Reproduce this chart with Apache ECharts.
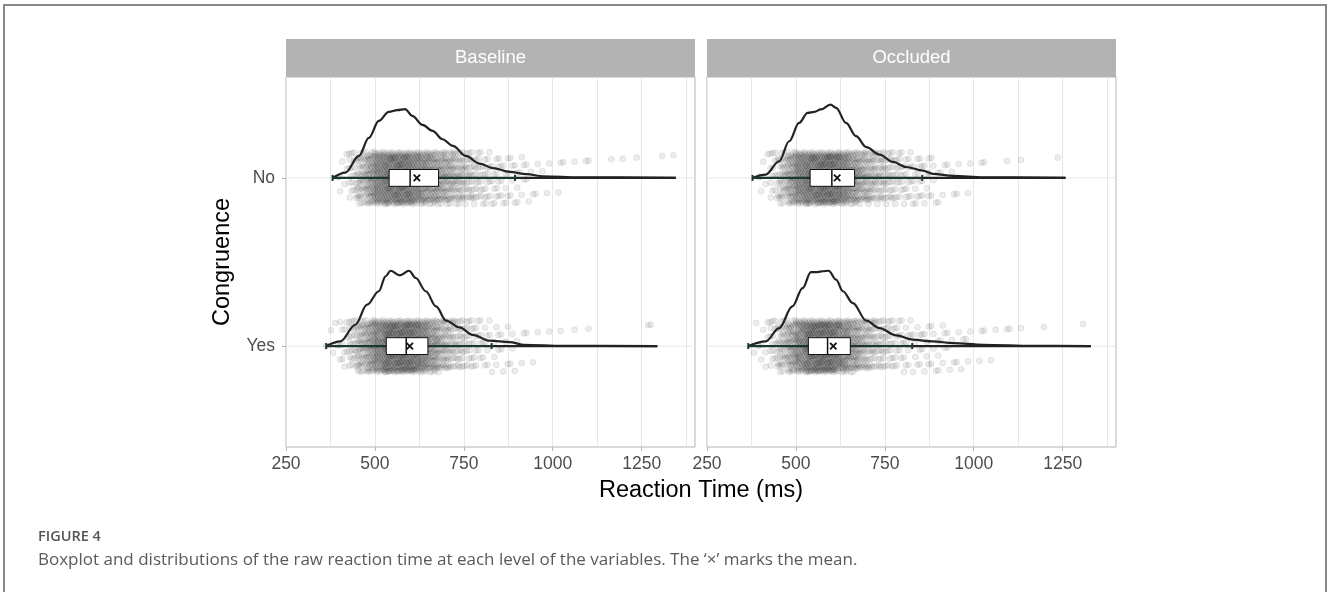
<!DOCTYPE html>
<html>
<head>
<meta charset="utf-8">
<script src="https://cdn.jsdelivr.net/npm/echarts@6/dist/echarts.min.js"></script>
<style>
  html, body { margin: 0; padding: 0; background: #fff; }
  #chart { width: 1328px; height: 592px; }
</style>
</head>
<body>
<div id="chart"></div>
<script>
// ---------------- DATA ----------------
const panels = ['Baseline', 'Occluded'];
const categories = ['No', 'Yes'];
const xTickLabels = [250, 500, 750, 1000, 1250];
const xMinorGrid = [375, 625, 875, 1125, 1375];

// Box statistics, [panel][category]
const boxQ1      = [[540, 532], [540, 535]];
const boxMedian  = [[599, 588], [601, 589]];
const boxQ3      = [[679, 649], [665, 653]];
const whiskerLow = [[381, 363], [378, 366]];
const whiskerHigh= [[894, 828], [855, 827]];
const meanRT     = [[618, 598], [616, 605]];
const maxRT      = [[1346, 1294], [1258, 1329]];

// Density curves: x (ms) and height (in category units)
const densBaselineNoX = [381,417,455,483,511,539,563,585,605,634,662,690,719,756,794,832,879,926,973,1077,1346];
const densBaselineNoH = [0,0.032,0.131,0.238,0.339,0.393,0.403,0.409,0.369,0.315,0.280,0.230,0.190,0.131,0.085,0.058,0.036,0.022,0.010,0.004,0];
const densOccludedNoX = [378,415,453,481,509,533,552,570,597,613,641,669,698,735,773,810,857,885,942,1027,1258];
const densOccludedNoH = [0,0.020,0.099,0.218,0.327,0.387,0.393,0.407,0.436,0.417,0.327,0.248,0.183,0.139,0.095,0.065,0.043,0.024,0.012,0.004,0];
const densBaselineYesX = [363,403,445,478,511,530,544,570,596,615,643,672,700,738,775,822,879,917,1030,1294];
const densBaselineYesH = [0,0.028,0.127,0.246,0.326,0.415,0.448,0.421,0.448,0.405,0.326,0.236,0.151,0.111,0.067,0.032,0.024,0.008,0.002,0];
const densOccludedYesX = [366,415,453,490,519,542,561,575,592,613,632,660,698,735,782,829,885,942,1027,1168,1329];
const densOccludedYesH = [0,0.028,0.107,0.236,0.345,0.440,0.440,0.445,0.448,0.395,0.326,0.256,0.151,0.107,0.064,0.038,0.028,0.018,0.008,0.002,0];

// Raw points: counts per 25 ms bin starting at 350 ms (estimated from the point clouds)
const binStart = 350;
const binWidth = 25;
const countsBaselineNo  = [0,1,6,20,40,64,86,98,101,101,89,78,70,59,50,40,31,23,18,14,11,8,6,5,3,2,2,1,1,1,1,0,1,1,0,1,0,0,1,1];
const countsOccludedNo  = [0,1,5,16,35,62,85,98,101,107,105,86,68,52,42,34,27,20,16,13,10,6,4,3,2,2,1,1,0,1,0,1,0,0,0,1,0,0,0,0];
const countsBaselineYes = [1,4,12,27,46,67,84,109,108,110,104,86,67,47,35,28,20,15,10,7,6,5,2,2,1,1,1,0,1,0,1,0,0,0,0,0,1,1,0,0];
const countsOccludedYes = [0,3,7,19,36,57,81,106,111,112,100,79,63,45,34,26,20,15,11,9,8,7,6,5,4,3,2,2,1,1,1,1,0,1,0,0,0,0,1,0];

// ---------------- BUILD ----------------
const densX = [[densBaselineNoX, densBaselineYesX], [densOccludedNoX, densOccludedYesX]];
const densH = [[densBaselineNoH, densBaselineYesH], [densOccludedNoH, densOccludedYesH]];
const counts = [[countsBaselineNo, countsBaselineYes], [countsOccludedNo, countsOccludedYes]];

const JITTER = 0.155;
function pointsFor(p, c) {
  const out = [];
  const centre = c + 1;
  counts[p][c].forEach((n, b) => {
    for (let k = 0; k < n; k++) {
      // deterministic spreading of each bin's points (layout jitter only)
      const fx = (0.5 + (k + b * 7) * 0.7548776662) % 1;
      const fy = (0.5 + (k + b * 7) * 0.5698402910) % 1;
      out.push([binStart + (b + fx) * binWidth, centre + (2 * fy - 1) * JITTER]);
    }
  });
  return out;
}

const GRID_COLOR = '#e6e6e6';
const series = [];
for (let p = 0; p < 2; p++) {
  // horizontal category grid lines
  series.push({
    type: 'custom', xAxisIndex: p, yAxisIndex: p, z: 1, silent: true,
    data: categories.map((_, c) => [c + 1]),
    renderItem: (params, api) => {
      const y = api.value(0);
      const a = api.coord([250, y]);
      const b = api.coord([1400, y]);
      return { type: 'line', shape: { x1: a[0], y1: a[1], x2: b[0], y2: b[1] },
               style: { stroke: GRID_COLOR, lineWidth: 1 } };
    }
  });
  // minor vertical grid lines
  series.push({
    type: 'custom', xAxisIndex: p, yAxisIndex: p, z: 1, silent: true,
    data: xMinorGrid.map(v => [v]),
    renderItem: (params, api) => {
      const x = api.value(0);
      const a = api.coord([x, 0.4]);
      const b = api.coord([x, 2.6]);
      return { type: 'line', shape: { x1: Math.round(a[0]) + 0.5, y1: a[1], x2: Math.round(b[0]) + 0.5, y2: b[1] },
               style: { stroke: GRID_COLOR, lineWidth: 1 } };
    }
  });
  // raw points
  series.push({
    type: 'scatter', xAxisIndex: p, yAxisIndex: p, z: 2, silent: true,
    progressive: 0, large: false,
    symbol: 'circle', symbolSize: 6,
    itemStyle: { color: 'rgba(0,0,0,0.09)', borderColor: 'rgba(0,0,0,0.12)', borderWidth: 0.8 },
    data: pointsFor(p, 0).concat(pointsFor(p, 1))
  });
  // density curves
  for (let c = 0; c < 2; c++) {
    series.push({
      type: 'line', xAxisIndex: p, yAxisIndex: p, z: 3, silent: true,
      symbol: 'none', smooth: 0.35, smoothMonotone: 'x',
      lineStyle: { color: '#222', width: 2.2 },
      data: densX[p][c].map((x, i) => [x, (c + 1) - densH[p][c][i]])
    });
  }
  // box + whiskers + mean
  series.push({
    type: 'custom', xAxisIndex: p, yAxisIndex: p, z: 4, silent: true,
    data: categories.map((_, c) => [c + 1, boxQ1[p][c], boxMedian[p][c], boxQ3[p][c],
                                    whiskerLow[p][c], whiskerHigh[p][c], meanRT[p][c], maxRT[p][c]]),
    renderItem: (params, api) => {
      const cy = api.value(0);
      const q1 = api.value(1), med = api.value(2), q3 = api.value(3);
      const lo = api.value(4), hi = api.value(5), mn = api.value(6), mx = api.value(7);
      const pLo = api.coord([lo, cy]), pHi = api.coord([hi, cy]), pMx = api.coord([mx, cy]);
      const bTop = api.coord([q1, cy - 0.05]), bBot = api.coord([q3, cy + 0.05]);
      const pMed = api.coord([med, cy]);
      const pMean = api.coord([mn, cy]);
      const whisk = '#1c3634';
      const d = 3.2;
      return {
        type: 'group',
        children: [
          { type: 'line', shape: { x1: pLo[0], y1: pLo[1], x2: pMx[0], y2: pMx[1] }, style: { stroke: '#222', lineWidth: 2.2 } },
          { type: 'line', shape: { x1: pLo[0], y1: pLo[1], x2: pHi[0], y2: pHi[1] }, style: { stroke: whisk, lineWidth: 2 } },
          { type: 'line', shape: { x1: pLo[0], y1: pLo[1] - 3, x2: pLo[0], y2: pLo[1] + 3 }, style: { stroke: whisk, lineWidth: 2 } },
          { type: 'line', shape: { x1: pHi[0], y1: pHi[1] - 3, x2: pHi[0], y2: pHi[1] + 3 }, style: { stroke: whisk, lineWidth: 2 } },
          { type: 'rect', shape: { x: bTop[0], y: Math.min(bTop[1], bBot[1]), width: bBot[0] - bTop[0], height: Math.abs(bBot[1] - bTop[1]) },
            style: { fill: '#fff', stroke: '#111', lineWidth: 1 } },
          { type: 'line', shape: { x1: pMed[0], y1: bTop[1], x2: pMed[0], y2: bBot[1] }, style: { stroke: '#111', lineWidth: 1.5 } },
          { type: 'line', shape: { x1: pMean[0] - d, y1: pMean[1] - d, x2: pMean[0] + d, y2: pMean[1] + d }, style: { stroke: '#111', lineWidth: 1.8 } },
          { type: 'line', shape: { x1: pMean[0] - d, y1: pMean[1] + d, x2: pMean[0] + d, y2: pMean[1] - d }, style: { stroke: '#111', lineWidth: 1.8 } }
        ]
      };
    }
  });
}

const FONT = 'Liberation Sans, Arial, sans-serif';
const gridDefs = [{ left: 286, width: 409 }, { left: 707, width: 409 }];

const option = {
  animation: false,
  backgroundColor: '#fff',
  grid: gridDefs.map(g => ({ left: g.left, width: g.width, top: 77, height: 370, show: true,
                             borderColor: '#b3b3b3', borderWidth: 1, backgroundColor: '#fff' })),
  xAxis: [0, 1].map(i => ({
    type: 'value', gridIndex: i, min: 250, max: 1400, interval: 125,
    axisLine: { show: false },
    axisTick: { show: true, length: 4, lineStyle: { color: '#b3b3b3' }, customValues: xTickLabels },
    axisLabel: { customValues: xTickLabels, color: '#4d4d4d', fontSize: 17.5, fontFamily: FONT, margin: 8,
                 formatter: v => String(v) },
    splitLine: { show: true, lineStyle: { color: GRID_COLOR, width: 1 } }
  })),
  yAxis: [0, 1].map(i => ({
    type: 'value', gridIndex: i, min: 0.4, max: 2.6, inverse: true,
    axisLine: { show: false },
    axisTick: { show: i === 0, length: 4, lineStyle: { color: '#b3b3b3' }, customValues: [1, 2] },
    axisLabel: { show: i === 0, customValues: [1, 2], color: '#4d4d4d', fontSize: 17.5, fontFamily: FONT, margin: 11,
                 formatter: v => categories[Math.round(v) - 1] || '' },
    splitLine: { show: false }
  })),
  series: series,
  graphic: [
    // outer figure frame
    { type: 'polyline', z: 100, shape: { points: [[4, 600], [4, 5], [1326, 5], [1326, 600]] },
      style: { stroke: '#8a8a8a', lineWidth: 2, fill: null } },
    // facet strips
    ...gridDefs.map((g, i) => ({
      type: 'group', children: [
        { type: 'rect', shape: { x: g.left, y: 39, width: g.width, height: 38 }, style: { fill: '#b3b3b3' } },
        { type: 'text', x: g.left + g.width / 2, y: 58,
          style: { text: panels[i], fill: '#ffffff', font: '18.5px ' + FONT, align: 'center', verticalAlign: 'middle' } }
      ]
    })),
    // axis titles
    { type: 'text', x: 701, y: 491,
      style: { text: 'Reaction Time (ms)', fill: '#000', font: '23.5px ' + FONT, align: 'center', verticalAlign: 'middle' } },
    { type: 'text', x: 223, y: 262, rotation: Math.PI / 2,
      style: { text: 'Congruence', fill: '#000', font: '23.5px ' + FONT, align: 'center', verticalAlign: 'middle' } },
    // caption
    { type: 'text', x: 38, y: 537,
      style: { text: 'FIGURE 4', fill: '#555', font: '600 14.5px "Open Sans", sans-serif', align: 'left', verticalAlign: 'middle' } },
    { type: 'text', x: 38, y: 560,
      style: { text: 'Boxplot and distributions of the raw reaction time at each level of the variables. The \u2018\u00d7\u2019 marks the mean.',
               fill: '#5a5a5a', font: '17px "Open Sans", sans-serif', align: 'left', verticalAlign: 'middle' } }
  ]
};

const chart = echarts.init(document.getElementById('chart'), null, { renderer: 'canvas' });
chart.setOption(option);
</script>
</body>
</html>
